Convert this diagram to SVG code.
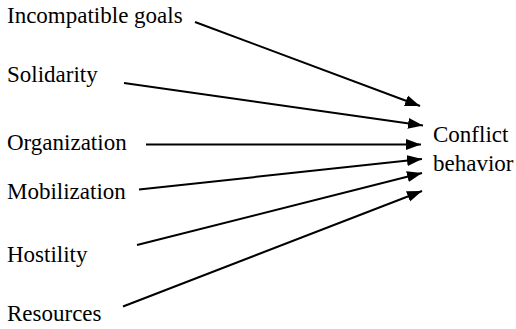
<svg xmlns="http://www.w3.org/2000/svg" width="516" height="329" viewBox="0 0 516 329">
<style>
text{font-family:"Liberation Serif","Times New Roman",serif;font-size:23px;fill:#000}
.c{stroke:#000;stroke-width:2;fill:none;marker-end:url(#ah)}
</style>
<defs>
<marker id="ah" markerUnits="userSpaceOnUse" markerWidth="16" markerHeight="12" refX="15" refY="6" orient="auto" viewBox="0 0 16 12">
<path d="M0,0.5 L15,6 L0,11.5 z" fill="#000"/>
</marker>
</defs>
<rect width="516" height="329" fill="#fff"/>
<g id="n-incompatible"><text x="7" y="23">Incompatible goals</text></g>
<g id="n-solidarity"><text x="7" y="82">Solidarity</text></g>
<g id="n-organization"><text x="7" y="150">Organization</text></g>
<g id="n-mobilization"><text x="7" y="199">Mobilization</text></g>
<g id="n-hostility"><text x="7" y="262">Hostility</text></g>
<g id="n-resources"><text x="7" y="321">Resources</text></g>
<g id="n-conflict"><text x="433" y="142">Conflict</text><text x="433" y="171">behavior</text></g>
<g id="connectors">
<line class="c" x1="195" y1="22" x2="420" y2="106"/>
<line class="c" x1="124" y1="83" x2="423" y2="125.5"/>
<line class="c" x1="146" y1="144.5" x2="421" y2="144.5"/>
<line class="c" x1="139" y1="189.5" x2="422" y2="159"/>
<line class="c" x1="137" y1="245" x2="422" y2="173"/>
<line class="c" x1="123" y1="306.5" x2="422" y2="191"/>
</g>
</svg>
